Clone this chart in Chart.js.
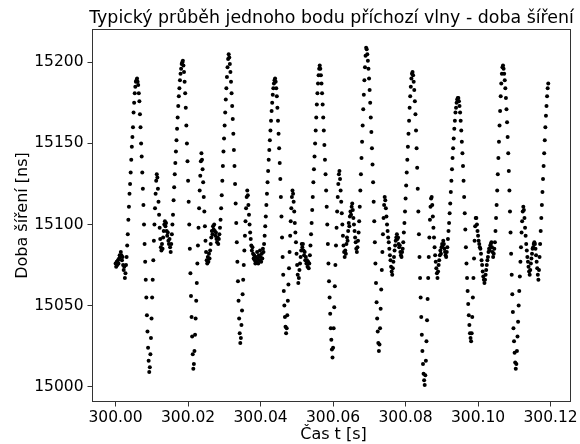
<!DOCTYPE html>
<html lang="cs">
<head>
    <meta charset="UTF-8">
    <title>Doba šíření</title>
    <style>
        body { margin: 0; background: #ffffff; }
        #chart1 { display: block; }
    </style>
</head>
<body>
    <script src="https://cdn.jsdelivr.net/npm/chart.js@4.4.1/dist/chart.umd.min.js"></script>

    <canvas id="chart1" width="580" height="444"></canvas>

    <script>
        // sampling of the measured point
        var t0 = 300.0;       // s
        var dt = 0.00016;     // s, 6.25 kHz

        // propagation delay of one point of the incoming wave [ns], one block ~ one period
        var delayNs = [
            15076, 15074, 15077, 15075, 15078, 15076, 15079, 15081, 15080, 15083, 15081, 15078, 15080, 15075, 15072, 15074, 15067, 15070, 15075,
            15080, 15087, 15094, 15103, 15111, 15119, 15125, 15132, 15140, 15148, 15154, 15160, 15169, 15175, 15181, 15185, 15188, 15189, 15190,
            15188, 15186, 15181, 15176, 15168, 15160, 15150, 15142, 15132, 15122, 15112, 15100, 15088, 15077, 15066, 15055, 15044, 15034, 15024, 15016, 15009,
            15012, 15020, 15030, 15042, 15055, 15066, 15078, 15090, 15100, 15110, 15119, 15127, 15131,
            15129, 15122, 15114, 15106, 15098, 15091, 15086, 15084, 15088, 15085, 15092, 15096, 15100, 15102, 15099, 15101, 15096, 15093, 15095, 15090, 15088, 15091, 15086, 15083, 15088,

            15094, 15100, 15106, 15115, 15123, 15131, 15138, 15145, 15152, 15159, 15166, 15173, 15179, 15184, 15189, 15193, 15196, 15199, 15200, 15201,
            15198, 15194, 15188, 15181, 15172, 15161, 15150, 15139, 15127, 15114, 15100, 15085, 15070, 15056, 15043, 15031, 15020, 15011,
            15014, 15022, 15032, 15042, 15053, 15064, 15076, 15087, 15098, 15110, 15121, 15130, 15139, 15144,
            15140, 15134, 15126, 15117, 15108, 15099, 15090, 15083, 15078, 15076, 15080, 15077, 15082, 15079, 15084, 15088, 15092, 15096, 15094, 15099, 15097, 15100, 15096, 15093, 15095, 15091, 15089, 15092, 15088, 15091, 15094, 15098,

            15103, 15110, 15118, 15127, 15136, 15145, 15153, 15161, 15169, 15177, 15184, 15191, 15197, 15202, 15205,
            15203, 15199, 15194, 15188, 15181, 15173, 15165, 15156, 15146, 15136, 15125, 15113, 15101, 15089, 15077, 15065, 15053, 15042, 15033, 15027,
            15030, 15038, 15047, 15057, 15066, 15075, 15084, 15093, 15102, 15110, 15117, 15121,
            15118, 15112, 15106, 15100, 15095, 15091, 15087, 15084, 15086, 15082, 15079, 15081, 15078, 15076, 15080, 15077, 15083, 15079, 15076, 15081, 15078, 15084, 15080, 15077, 15082, 15079, 15085, 15083, 15088,

            15093, 15099, 15105, 15112, 15119, 15126, 15133, 15140, 15146, 15152, 15158, 15164, 15170, 15175, 15180, 15184, 15187, 15189, 15190,
            15188, 15184, 15179, 15172, 15164, 15156, 15147, 15138, 15128, 15117, 15105, 15092, 15080, 15069, 15059, 15050, 15043, 15037, 15033,
            15036, 15044, 15053, 15063, 15073, 15083, 15093, 15102, 15110, 15117, 15121,
            15119, 15114, 15108, 15101, 15095, 15089, 15082, 15075, 15069, 15064, 15067, 15072, 15076, 15080, 15084, 15088, 15086, 15088, 15084, 15081, 15083, 15078, 15080, 15076, 15078, 15074, 15077, 15073, 15076, 15081, 15087,

            15094, 15101, 15109, 15117, 15126, 15134, 15142, 15150, 15158, 15166, 15174, 15181, 15187, 15192, 15196, 15198,
            15196, 15192, 15187, 15181, 15174, 15166, 15158, 15149, 15140, 15131, 15121, 15111, 15100, 15088, 15076, 15065, 15055, 15045, 15036, 15029, 15023, 15018,
            15024, 15036, 15049, 15062, 15075, 15087, 15098, 15108, 15117, 15125, 15131,
            15133, 15128, 15121, 15114, 15107, 15100, 15093, 15087, 15083, 15080, 15084, 15082, 15088, 15092, 15090, 15096, 15101, 15099, 15105, 15108, 15106, 15111, 15113, 15109, 15104, 15100, 15096, 15092, 15089, 15085, 15083, 15086, 15090, 15095,

            15102, 15111, 15121, 15131, 15141, 15151, 15161, 15171, 15180, 15189, 15197, 15204, 15209,
            15208, 15205, 15201, 15196, 15190, 15183, 15175, 15166, 15157, 15147, 15137, 15126, 15114, 15102, 15089, 15076, 15064, 15052, 15042, 15034, 15027, 15022,
            15026, 15036, 15048, 15060, 15072, 15083, 15094, 15104, 15112, 15117,
            15115, 15110, 15105, 15100, 15096, 15092, 15089, 15085, 15081, 15078, 15074, 15071, 15069, 15073, 15077, 15080, 15084, 15087, 15090, 15092, 15094, 15091, 15092, 15088, 15086, 15087, 15083, 15081, 15080, 15083, 15085, 15089,

            15095, 15101, 15108, 15116, 15124, 15132, 15140, 15148, 15156, 15164, 15172, 15179, 15185, 15190, 15193, 15194,
            15192, 15188, 15183, 15176, 15168, 15158, 15147, 15135, 15122, 15108, 15094, 15080, 15067, 15055, 15043, 15032, 15022, 15014, 15008, 15004, 15001,
            15007, 15016, 15028, 15041, 15054, 15067, 15080, 15092, 15103, 15111, 15116,
            15117, 15112, 15105, 15098, 15092, 15086, 15081, 15077, 15073, 15070, 15067, 15071, 15075, 15078, 15081, 15084, 15082, 15086, 15088, 15087, 15090, 15088, 15085, 15083, 15081, 15080, 15083, 15086, 15091,

            15096, 15101, 15107, 15113, 15120, 15127, 15134, 15141, 15147, 15153, 15159, 15164, 15169, 15172, 15175, 15177, 15178, 15178,
            15176, 15173, 15169, 15164, 15158, 15151, 15144, 15136, 15127, 15117, 15107, 15097, 15086, 15076, 15067, 15059, 15051, 15044, 15038, 15033, 15030, 15028,
            15033, 15043, 15055, 15067, 15079, 15090, 15099, 15104,
            15104, 15100, 15096, 15093, 15090, 15088, 15086, 15085, 15082, 15078, 15075, 15071, 15068, 15066, 15064, 15066, 15069, 15072, 15075, 15078, 15080, 15083, 15085, 15084, 15087, 15088, 15089, 15086, 15083, 15080, 15082, 15085, 15089,

            15096, 15104, 15112, 15121, 15131, 15141, 15151, 15161, 15170, 15179, 15187, 15193, 15197, 15198,
            15196, 15193, 15189, 15184, 15178, 15171, 15163, 15154, 15144, 15133, 15121, 15108, 15095, 15082, 15069, 15057, 15046, 15036, 15028, 15021, 15015, 15011,
            15014, 15022, 15031, 15040, 15050, 15059, 15068, 15077, 15086, 15095, 15102, 15108, 15111,
            15109, 15104, 15098, 15093, 15088, 15084, 15080, 15077, 15074, 15071, 15069, 15072, 15076, 15079, 15082, 15085, 15086, 15088, 15089, 15088, 15085, 15081, 15077, 15073, 15069, 15066, 15072, 15080,

            15088, 15096, 15104, 15112, 15120, 15128, 15136, 15144, 15152, 15160, 15167, 15173, 15179, 15184, 15187
        ];

        var xTicks = [300.00, 300.02, 300.04, 300.06, 300.08, 300.10, 300.12];
        var yTicks = [15000, 15050, 15100, 15150, 15200];

        var titleText = "Typický průběh jednoho bodu příchozí vlny - doba šíření";
        var xLabel = "Čas t [s]";
        var yLabel = "Doba šíření [ns]";

        var fontFamily = "'DejaVu Sans', 'Liberation Sans', sans-serif";
        var frameColor = "#333333";

        var points = delayNs.map((v, i) => ({x: t0 + i * dt, y: v}));

        // matplotlib-like box around the axes plus title and axis labels
        var axesDecor = {
            id: 'axesDecor',
            afterDraw(chart) {
                let ctx = chart.ctx;
                let a = chart.chartArea;
                ctx.save();
                ctx.strokeStyle = frameColor;
                ctx.lineWidth = 1;
                ctx.strokeRect(a.left, a.top, a.right - a.left, a.bottom - a.top);

                let cx = (a.left + a.right) / 2;
                ctx.fillStyle = "#000";
                ctx.textAlign = "center";
                ctx.textBaseline = "alphabetic";
                ctx.font = "17.4px " + fontFamily;
                ctx.fillText(titleText, cx, 22.5);

                ctx.font = "16px " + fontFamily;
                ctx.fillText(xLabel, cx + 2, 439);

                ctx.translate(26.5, (a.top + a.bottom) / 2);
                ctx.rotate(-Math.PI / 2);
                ctx.fillText(yLabel, 0, 0);
                ctx.restore();
            }
        };

        var tickFont = { family: fontFamily, size: 15.5 };

        var context1 = document.getElementById('chart1').getContext('2d');
        window.chart1 = new Chart(context1, {
            type: 'scatter',
            data: {
                datasets: [{
                    data: points,
                    backgroundColor: "#000",
                    pointBackgroundColor: "#000",
                    pointBorderWidth: 0,
                    pointRadius: 2,
                    showLine: false
                }]
            },
            options: {
                responsive: false,
                animation: false,
                layout: {
                    padding: { top: 29.5, right: 7.5, left: 0, bottom: 0 }
                },
                plugins: {
                    legend: { display: false },
                    tooltip: { enabled: false }
                },
                scales: {
                    x: {
                        type: 'linear',
                        min: 299.99363,
                        max: 300.1255,
                        afterBuildTicks: (scale) => { scale.ticks = xTicks.map(v => ({value: v})); },
                        afterFit: (scale) => { scale.height = 42.5; },
                        border: { display: false },
                        grid: { display: true, drawOnChartArea: false, drawTicks: true, tickLength: 5, color: frameColor },
                        ticks: {
                            color: "#000",
                            font: tickFont,
                            padding: 2,
                            maxRotation: 0,
                            autoSkip: false,
                            callback: (value) => value.toFixed(2)
                        }
                    },
                    y: {
                        min: 14990.88,
                        max: 15220.23,
                        afterBuildTicks: (scale) => { scale.ticks = yTicks.map(v => ({value: v})); },
                        afterFit: (scale) => { scale.width = 92.5; },
                        border: { display: false },
                        grid: { display: true, drawOnChartArea: false, drawTicks: true, tickLength: 5, color: frameColor },
                        ticks: {
                            color: "#000",
                            font: tickFont,
                            padding: 4,
                            autoSkip: false,
                            callback: (value) => String(value)
                        }
                    }
                }
            },
            plugins: [axesDecor]
        });
    </script>
</body>
</html>
